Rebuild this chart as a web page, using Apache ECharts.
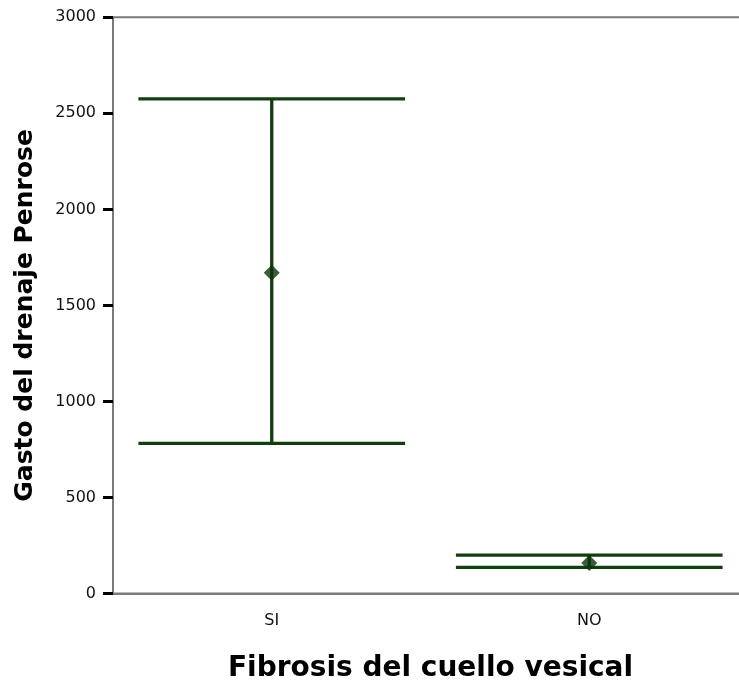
<!DOCTYPE html>
<html>
<head>
<meta charset="utf-8">
<script src="https://cdn.jsdelivr.net/npm/echarts@6/dist/echarts.min.js"></script>
<style>
html,body{margin:0;padding:0;background:#fff;}
#chart{width:739px;height:684px;}
</style>
</head>
<body>
<div id="chart"></div>
<script>
const categories = ['SI', 'NO'];
const meanValues = [1670, 159];
const lowerValues = [782, 136];
const upperValues = [2575, 200];
const yTicks = [0, 500, 1000, 1500, 2000, 2500, 3000];

const barColor = '#123e12';
const chart = echarts.init(document.getElementById('chart'));

const errData = categories.map((c, i) => [i, lowerValues[i], upperValues[i]]);
const meanData = categories.map((c, i) => [i, meanValues[i]]);

chart.setOption({
  animation: false,
  backgroundColor: '#ffffff',
  grid: {
    left: 113, top: 17.3, right: -9, bottom: 90.5,
    outerBoundsMode: 'none',
    containLabel: false,
    show: true, borderColor: '#7a7a7a', borderWidth: 2, backgroundColor: 'transparent'
  },
  xAxis: {
    type: 'category',
    data: categories,
    boundaryGap: true,
    name: 'Fibrosis del cuello vesical',
    nameLocation: 'middle',
    nameGap: 61,
    nameTextStyle: { fontFamily: 'DejaVu Sans', fontWeight: 'bold', fontSize: 28, color: '#000' },
    axisLine: { lineStyle: { color: '#7a7a7a', width: 2 } },
    axisTick: { alignWithLabel: true, length: 10, lineStyle: { color: '#000', width: 3 } },
    axisLabel: { fontFamily: 'DejaVu Sans', fontSize: 16, color: '#111', margin: 19 },
    splitLine: { show: false }
  },
  yAxis: {
    type: 'value',
    min: 0, max: 3000, interval: 500,
    name: 'Gasto del drenaje Penrose',
    nameLocation: 'middle',
    nameGap: 75,
    nameTextStyle: { fontFamily: 'DejaVu Sans', fontWeight: 'bold', fontSize: 25, color: '#000', padding: [0, 20, 0, 0] },
    axisLine: { show: true, lineStyle: { color: '#7a7a7a', width: 2 } },
    axisTick: { show: true, length: 10, lineStyle: { color: '#000', width: 3 } },
    axisLabel: {
      fontFamily: 'DejaVu Sans', fontSize: 16, color: '#111', margin: 17,
      formatter: v => yTicks.includes(v) ? String(v) : ''
    },
    splitLine: { show: false }
  },
  series: [
    {
      type: 'custom',
      data: errData,
      renderItem: function (params, api) {
        const idx = api.value(0);
        const lo = api.coord([idx, api.value(1)]);
        const hi = api.coord([idx, api.value(2)]);
        const band = api.size([1, 0])[0];
        const hw = band * 0.42;
        const style = { stroke: barColor, lineWidth: 3.3 };
        return {
          type: 'group',
          children: [
            { type: 'line', shape: { x1: lo[0] - hw, y1: hi[1], x2: lo[0] + hw, y2: hi[1] }, style: style },
            { type: 'line', shape: { x1: lo[0] - hw, y1: lo[1], x2: lo[0] + hw, y2: lo[1] }, style: style },
            { type: 'line', shape: { x1: lo[0], y1: hi[1], x2: lo[0], y2: lo[1] }, style: style }
          ]
        };
      },
      z: 2
    },
    {
      type: 'scatter',
      data: meanData,
      symbol: 'diamond',
      symbolSize: [16, 16],
      itemStyle: { color: '#0a340a' },
      z: 3
    }
  ]
});
</script>
</body>
</html>
